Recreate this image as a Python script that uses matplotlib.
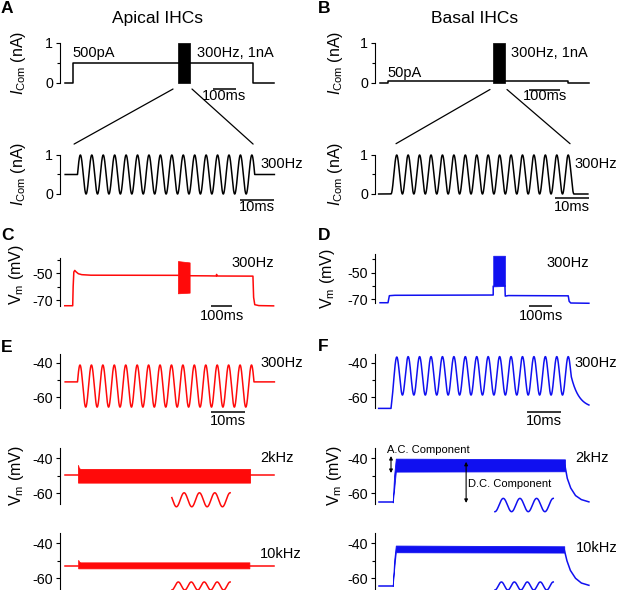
import numpy as np
import matplotlib
matplotlib.use('Agg')
import matplotlib.pyplot as plt
from matplotlib.patches import ConnectionPatch
from matplotlib.transforms import blended_transform_factory

plt.rcParams['font.family'] = ['Liberation Sans', 'DejaVu Sans']
plt.rcParams['mathtext.fontset'] = 'custom'
plt.rcParams['mathtext.rm'] = 'Liberation Sans'
plt.rcParams['mathtext.it'] = 'Liberation Sans:italic'

# ---------------------------------------------------------------- data
# command current protocol (long time base, ms)
step_on_ms = 0.0
step_off_ms = 794.0
burst_on_ms = 463.5
burst_freq_hz = 300.0
burst_cycles = 15.5
long_range_ms = [-35.0, 885.0]
apical_hold_nA = 0.5
basal_hold_nA = 0.05
burst_min_nA = 0.0
burst_max_nA = 1.0

# short time base (ms)
short_range_ms = [-3.6, 57.4]
apical_stim_cycles = 15.5
basal_stim_cycles = 16.0

# C: apical Vm, long time base (breakpoints)
C_pre_t = [-35, 0, 2, 5, 9, 15, 25, 40, 80, 463.5]
C_pre_v = [-74.3, -74.3, -60.0, -49.0, -47.8, -48.9, -50.3, -51.0, -51.4, -51.5]
C_burst_top = [-40.8, -41.8]
C_burst_bot = [-65.0, -64.5]
C_post_t = [515.2, 600, 632, 634, 636, 794, 797, 802, 820, 885]
C_post_v = [-51.8, -51.9, -52.0, -50.8, -52.0, -52.1, -68.0, -73.5, -74.2, -74.4]

# D: basal Vm, long time base (breakpoints)
D_pre_t = [-35, 0, 6, 30, 463.5, 463.5]
D_pre_v = [-72.6, -72.6, -67.3, -67.0, -66.8, -60.3]
D_burst_top = [-37.2, -37.2]
D_burst_bot = [-60.3, -60.0]
D_post_t = [515.2, 516.5, 530, 794, 798, 805, 885]
D_post_v = [-60.0, -67.6, -67.2, -67.4, -71.5, -72.8, -73.0]

# E1 / F1: 300 Hz responses
E1_base, E1_dc, E1_amp = -51.1, -53.5, 12.15
F1_base, F1_dc, F1_amp = -66.4, -47.6, 11.1
F1_end_cycles, F1_tau_on_ms, F1_tau_ms = 15.75, 0.35, 2.3

# E2 / E3: apical 2 kHz and 10 kHz (envelopes of the dense oscillation)
E2_base = -49.5
E2_env_t = [0.15, 0.4, 0.8, 50.3]
E2_env_top = [-43.8, -45.5, -46.1, -46.1]
E2_env_bot = [-53.9, -53.9, -53.9, -53.9]
E3_base = -52.8
E3_env_t = [0.2, 0.45, 0.8, 50.1]
E3_env_top = [-49.5, -50.5, -50.9, -50.9]
E3_env_bot = [-54.3, -54.3, -54.3, -54.3]

# F2 / F3: basal 2 kHz and 10 kHz
F2_base = -65.2
F2_env_t = [0.5, 0.9, 1.4, 50.7]
F2_env_top = [-65.0, -50.0, -40.2, -40.6]
F2_env_bot = [-65.2, -58.0, -47.6, -47.4]
F2_dec_t = [50.7, 51.4, 52.4, 53.8, 55.5, 57.7]
F2_dec_v = [-44.0, -51.5, -57.0, -61.3, -63.6, -64.9]
F3_base = -64.4
F3_env_t = [0.5, 0.9, 1.4, 50.5]
F3_env_top = [-64.4, -50.0, -41.3, -41.7]
F3_env_bot = [-64.4, -55.0, -45.1, -45.3]
F3_dec_t = [50.5, 51.3, 52.3, 53.8, 55.5, 57.7]
F3_dec_v = [-43.5, -50.0, -55.5, -60.0, -62.7, -64.0]

# expanded-view insets: [t0, t1, centre mV, amplitude mV, cycles, phase (cycles)]
E2_inset = [27.5, 44.5, -63.7, 4.0, 3.8, -0.05]
E3_inset = [27.5, 44.5, -64.4, 2.3, 4.5, 0.25]
F2_inset = [30.3, 47.3, -66.7, 3.8, 3.5, 0.25]
F3_inset = [30.3, 47.3, -64.4, 2.3, 4.5, 0.25]

# A.C. / D.C. arrows in F2: [t, top mV, bottom mV]
AC_arrow = [0.0, -38.7, -48.4]
DC_arrow = [21.9, -42.0, -65.5]

# scale bars: start (ms), length (ms), y level
long_bars = {'A': (618, 100, -0.158), 'B': (622, 136, -0.17),
             'C': (611, 91, -74.3), 'D': (622, 100, -74.8)}
short_bars = {'A': (47.4, 10, -0.154), 'B': (47.8, 10, -0.10),
              'E': (38.9, 10, -68.3), 'F': (39.7, 10, -68.3)}

# ---------------------------------------------------------------- layout
W, H = 617, 590
fig = plt.figure(figsize=(W / 100, H / 100), dpi=100)
RED = '#ff0a0a'
BLUE = '#1010f0'
LW = 1.1
LONG_PPM, SHORT_PPM = 0.227, 3.43
ORIG = {('L', 'long'): 72.7, ('R', 'long'): 388.0,
        ('L', 'short'): 77.5, ('R', 'short'): 391.0}
SPINE_X = {'L': 60.0, 'R': 375.0}
RIGHT_X = {'L': 282.0, 'R': 598.0}


def fy(py):
    return 1 - py / H


def make_axes(col, base, y_top, y_bot, ylim, major, minor, labels):
    x0, x1 = SPINE_X[col], RIGHT_X[col]
    ppm = LONG_PPM if base == 'long' else SHORT_PPM
    o = ORIG[(col, base)]
    ax = fig.add_axes([x0 / W, 1 - y_bot / H, (x1 - x0) / W, (y_bot - y_top) / H])
    ax.set_xlim((x0 - o) / ppm, (x1 - o) / ppm)
    ax.set_ylim(*ylim)
    for s in ['top', 'right', 'bottom']:
        ax.spines[s].set_visible(False)
    ax.spines['left'].set_linewidth(0.8)
    ax.set_xticks([])
    ax.set_yticks(major)
    ax.set_yticklabels(labels)
    ax.set_yticks(minor, minor=True)
    ax.tick_params(axis='y', which='major', direction='out', length=3, width=0.8,
                   labelsize=10.3, pad=2)
    ax.tick_params(axis='y', which='minor', direction='out', length=2, width=0.8)
    ax.patch.set_alpha(0)
    return ax


def ftext(px, py, s, size=10.5, **kw):
    fig.text(px / W, fy(py), s, fontsize=size, va='baseline', **kw)


def scale_bar(ax, bar, label, label_py, color='k'):
    t0, ln, yv = bar
    ax.plot([t0, t0 + ln], [yv, yv], color=color, lw=1.1, clip_on=False,
            solid_capstyle='butt')
    tr = blended_transform_factory(ax.transData, fig.transFigure)
    ax.text(t0 + ln / 2, fy(label_py), label, transform=tr, ha='center',
            va='baseline', fontsize=10.5)


burst_dur_ms = burst_cycles / burst_freq_hz * 1000.0

# ---------------------------------------------------------------- A / B top
I_ticks = dict(ylim=(0, 1), major=[0, 1], minor=[0.5], labels=['0', '1'])
axA = make_axes('L', 'long', 42.7, 82.7, **I_ticks)
axB = make_axes('R', 'long', 42.7, 82.7, **I_ticks)
for ax, hold in [(axA, apical_hold_nA), (axB, basal_hold_nA)]:
    t = [long_range_ms[0], step_on_ms, step_on_ms, step_off_ms, step_off_ms, long_range_ms[1]]
    i = [0, 0, hold, hold, 0, 0]
    ax.plot(t, i, color='k', lw=LW, clip_on=False)
    ax.fill_between([burst_on_ms, burst_on_ms + burst_dur_ms], burst_min_nA,
                    burst_max_nA, color='k', lw=0.5, clip_on=False)
scale_bar(axA, long_bars['A'], '100ms', 100)
scale_bar(axB, long_bars['B'], '100ms', 100)

# ---------------------------------------------------------------- A / B bottom
axA2 = make_axes('L', 'short', 155, 194, **I_ticks)
axB2 = make_axes('R', 'short', 155, 194, **I_ticks)
N = 6000
ta = np.linspace(0, apical_stim_cycles / burst_freq_hz * 1000, N)
ia = 0.5 * (burst_min_nA + burst_max_nA) + 0.5 * (burst_max_nA - burst_min_nA) * \
    np.sin(2 * np.pi * burst_freq_hz * ta / 1000)
axA2.plot(np.r_[short_range_ms[0], ta, short_range_ms[1]],
          np.r_[apical_hold_nA, ia, apical_hold_nA], color='k', lw=LW, clip_on=False)
tb = np.linspace(0, basal_stim_cycles / burst_freq_hz * 1000, N)
ib = 0.5 * (burst_min_nA + burst_max_nA) - 0.5 * (burst_max_nA - burst_min_nA) * \
    np.cos(2 * np.pi * burst_freq_hz * tb / 1000)
axB2.plot(np.r_[short_range_ms[0], tb, short_range_ms[1]],
          np.r_[burst_min_nA, ib, burst_min_nA], color='k', lw=LW, clip_on=False)
scale_bar(axA2, short_bars['A'], '10ms', 211)
scale_bar(axB2, short_bars['B'], '10ms', 211)

# zoom lines
for top, bot, pts in [(axA, axA2, [((441.9, -0.158), (-1.0, 1.28)), ((525.5, -0.158), (51.2, 1.28))]),
                      (axB, axB2, [((449.3, -0.17), (1.46, 1.29)), ((524.2, -0.17), (52.2, 1.29))])]:
    for pa, pb in pts:
        cp = ConnectionPatch(xyA=pa, coordsA=top.transData, xyB=pb, coordsB=bot.transData,
                             color='k', lw=0.9)
        fig.add_artist(cp)

# ---------------------------------------------------------------- C / D
V_long = dict(major=[-50, -70], minor=[-40, -60], labels=['-50', '-70'])
axC = make_axes('L', 'long', 258, 306, ylim=(-74.5, -38.5), **V_long)
axD = make_axes('R', 'long', 254, 303, ylim=(-72.8, -35.9), **V_long)
for ax, pre_t, pre_v, top, bot, post_t, post_v, col in [
        (axC, C_pre_t, C_pre_v, C_burst_top, C_burst_bot, C_post_t, C_post_v, RED),
        (axD, D_pre_t, D_pre_v, D_burst_top, D_burst_bot, D_post_t, D_post_v, BLUE)]:
    ax.plot(pre_t, pre_v, color=col, lw=LW, clip_on=False)
    ax.plot(post_t, post_v, color=col, lw=LW, clip_on=False)
    ax.fill_between([burst_on_ms, burst_on_ms + burst_dur_ms], bot, top,
                    color=col, lw=0.5, clip_on=False)
scale_bar(axC, long_bars['C'], '100ms', 320)
scale_bar(axD, long_bars['D'], '100ms', 320)

# ---------------------------------------------------------------- E / F
V_short = dict(major=[-40, -60], minor=[-50], labels=['-40', '-60'])
rows = {1: (354, 407.7, (-66, -35)), 2: (447.8, 503.8, (-66, -34)), 3: (532.8, 588.8, (-66, -34))}
axE = {}
axF = {}
for r, (yt, yb, yl) in rows.items():
    axE[r] = make_axes('L', 'short', yt, yb, ylim=yl, **V_short)
    axF[r] = make_axes('R', 'short', yt, yb, ylim=yl, **V_short)

f = burst_freq_hz / 1000.0  # cycles per ms
# E1
phi = np.arcsin((E1_base - E1_dc) / E1_amp)
e_end = (15 + (np.pi - 2 * phi) / (2 * np.pi)) / f
te = np.linspace(0, e_end, N)
ve = E1_dc + E1_amp * np.sin(2 * np.pi * f * te + phi)
axE[1].plot(np.r_[short_range_ms[0], te, short_range_ms[1]],
            np.r_[E1_base, ve, E1_base], color=RED, lw=LW, clip_on=False)
# F1
f_end = F1_end_cycles / f
tf = np.linspace(0, f_end, N)
vf = F1_dc - F1_amp * np.cos(2 * np.pi * f * tf)
vf = F1_base + (vf - F1_base) * (1 - np.exp(-tf / F1_tau_on_ms))
td = np.linspace(f_end, short_range_ms[1] + 0.3, 200)
vd = F1_base + (vf[-1] - F1_base) * np.exp(-(td - f_end) / F1_tau_ms)
axF[1].plot(np.r_[short_range_ms[0], tf, td], np.r_[F1_base, vf, vd],
            color=BLUE, lw=LW, clip_on=False)

# E2 / E3 bands
for ax, base, et, etop, ebot in [(axE[2], E2_base, E2_env_t, E2_env_top, E2_env_bot),
                                 (axE[3], E3_base, E3_env_t, E3_env_top, E3_env_bot)]:
    ax.plot([short_range_ms[0], et[0]], [base, base], color=RED, lw=LW, clip_on=False)
    ax.plot([et[-1], short_range_ms[1]], [base, base], color=RED, lw=LW, clip_on=False)
    ax.fill_between(et, ebot, etop, color=RED, lw=0.6, clip_on=False)

# F2 / F3 bands
for ax, base, et, etop, ebot, dt, dv in [
        (axF[2], F2_base, F2_env_t, F2_env_top, F2_env_bot, F2_dec_t, F2_dec_v),
        (axF[3], F3_base, F3_env_t, F3_env_top, F3_env_bot, F3_dec_t, F3_dec_v)]:
    ax.plot([short_range_ms[0], et[0]], [base, base], color=BLUE, lw=LW, clip_on=False)
    ax.fill_between(et, ebot, etop, color=BLUE, lw=0.6, clip_on=False)
    ax.plot(dt, dv, color=BLUE, lw=LW, clip_on=False)

# insets
for ax, ins, col in [(axE[2], E2_inset, RED), (axE[3], E3_inset, RED),
                     (axF[2], F2_inset, BLUE), (axF[3], F3_inset, BLUE)]:
    t0, t1, c, a, cyc, ph = ins
    u = np.linspace(0, cyc, 400)
    ax.plot(t0 + (t1 - t0) * u / cyc, c - a * np.sin(2 * np.pi * (u + ph)),
            color=col, lw=LW, clip_on=False)

# arrows
for arr in [AC_arrow, DC_arrow]:
    axF[2].annotate('', xy=(arr[0], arr[1]), xytext=(arr[0], arr[2]),
                    arrowprops=dict(arrowstyle='<|-|>', lw=0.8, color='k',
                                    mutation_scale=5, shrinkA=0, shrinkB=0),
                    annotation_clip=False)

scale_bar(axE[1], short_bars['E'], '10ms', 425)
scale_bar(axF[1], short_bars['F'], '10ms', 425)

# ---------------------------------------------------------------- texts
ftext(1, 13.3, 'A', size=12.5, fontweight='bold')
ftext(318, 13.3, 'B', size=12.5, fontweight='bold')
ftext(1, 240, 'C', size=12.5, fontweight='bold')
ftext(318, 240, 'D', size=12.5, fontweight='bold')
ftext(1, 351.7, 'E', size=12.5, fontweight='bold')
ftext(318, 351, 'F', size=12.5, fontweight='bold')

fig.text(157.5 / W, fy(22.7), 'Apical IHCs', fontsize=12.5, ha='center', va='baseline')
fig.text(474.5 / W, fy(22.7), 'Basal IHCs', fontsize=12.5, ha='center', va='baseline')

ftext(72.7, 57.3, '500pA')
ftext(196.7, 57.3, '300Hz, 1nA')
ftext(387.3, 76.7, '50pA')
ftext(510.7, 56.7, '300Hz, 1nA')
ftext(260, 168.3, '300Hz')
ftext(574, 168.3, '300Hz')
ftext(231, 266.7, '300Hz')
ftext(546, 266.7, '300Hz')
ftext(260, 367.3, '300Hz')
ftext(574.3, 366.7, '300Hz')
ftext(260, 462, '2kHz')
ftext(575, 462, '2kHz')
ftext(260, 558, '10kHz')
ftext(576, 552.5, '10kHz')
ftext(386.7, 453.3, 'A.C. Component', size=8)
ftext(468, 487.3, 'D.C. Component', size=8)

ilab = r'$I_{\mathrm{Com}}$ (nA)'
vlab = r'V$_{\mathrm{m}}$ (mV)'
for px, py, s in [(19, 62.5, ilab), (19, 174, ilab), (336, 62.5, ilab), (336, 174, ilab),
                  (16, 275, vlab), (327.5, 279, vlab), (17, 476, vlab), (334, 476, vlab)]:
    fig.text(px / W, fy(py), s, rotation=90, ha='center', va='center', fontsize=11.5)

fig.savefig('out.png', dpi=100)
